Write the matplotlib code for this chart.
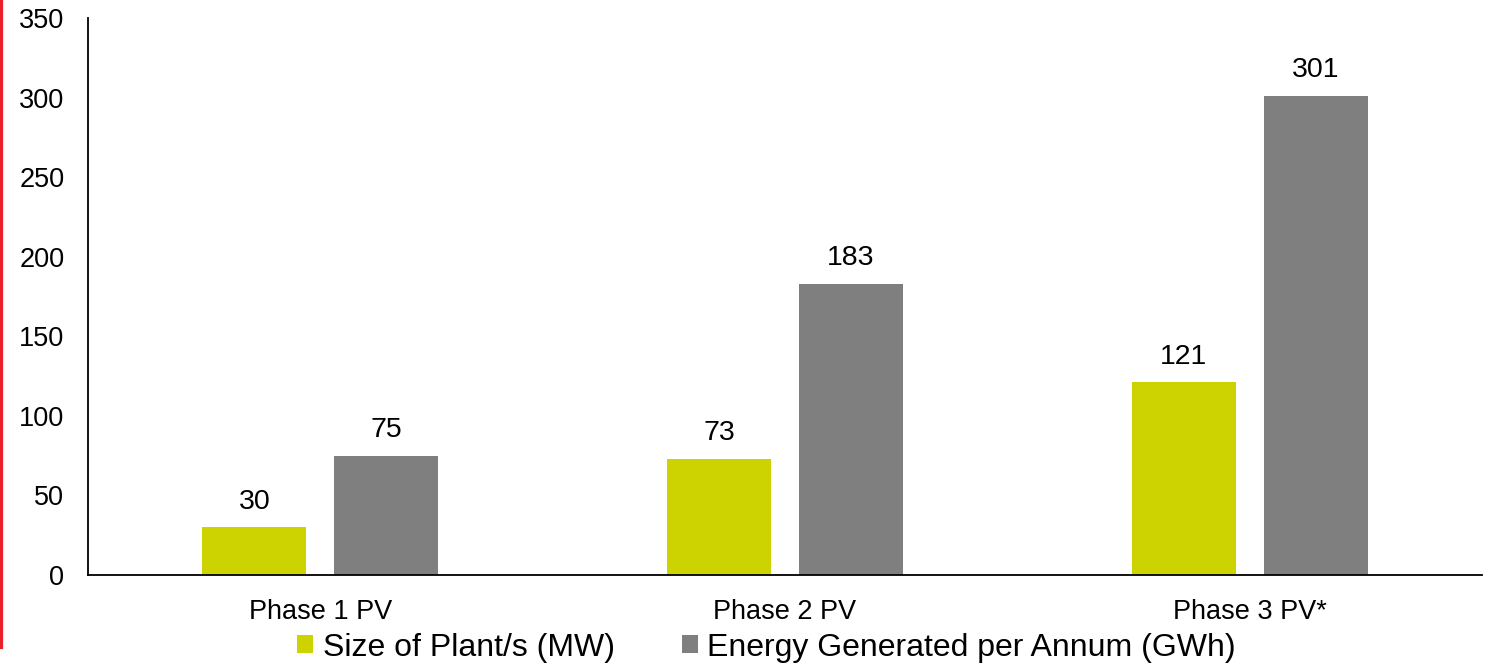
import numpy as np
import matplotlib
matplotlib.use("Agg")
import matplotlib.pyplot as plt
from matplotlib.lines import Line2D

plt.rcParams['font.family'] = ['Liberation Sans', 'DejaVu Sans']

categories = ["Phase 1 PV", "Phase 2 PV", "Phase 3 PV*"]
size_mw = [30, 73, 121]
energy_gwh = [75, 183, 301]
series_names = ["Size of Plant/s (MW)", "Energy Generated per Annum (GWh)"]
colors = ["#CDD300", "#7F7F7F"]

fig = plt.figure(figsize=(14.91, 6.65), dpi=100)
ax = fig.add_axes([0.059, 0.1353, 0.935, 0.8377])

x = np.arange(len(categories))
w = 0.224
off = 0.142
b1 = ax.bar(x - off, size_mw, w, color=colors[0], label=series_names[0])
b2 = ax.bar(x + off, energy_gwh, w, color=colors[1], label=series_names[1])

for bars in (b1, b2):
    for r in bars:
        ax.annotate(f"{int(r.get_height())}", (r.get_x() + r.get_width() / 2, r.get_height()),
                    xytext=(0, 9), textcoords="offset points", ha="center", va="bottom",
                    fontsize=20.5)

ax.set_xlim(-0.5, 2.5)
ax.set_ylim(0, 350)
ax.set_yticks(range(0, 351, 50))
ax.set_xticks(x)
ax.set_xticklabels(categories, fontsize=19.5)
ax.tick_params(axis="y", length=0, labelsize=19.5, pad=17)
ax.tick_params(axis="x", length=0, pad=17)
for s in ("top", "right"):
    ax.spines[s].set_visible(False)
for s in ("left", "bottom"):
    ax.spines[s].set_linewidth(1.3)

ax.legend(loc="center", bbox_to_anchor=(0.514, 0.026), bbox_transform=fig.transFigure,
          ncol=2, frameon=False, fontsize=23, handlelength=0.5, handleheight=0.5,
          handletextpad=0.3, columnspacing=2.1, borderpad=0.0)

# red bar at the left edge
fig.add_artist(Line2D([0.001, 0.001], [0.027, 1.0], transform=fig.transFigure,
                      color="#E8202A", linewidth=3))

fig.savefig("out.png", dpi=100)
